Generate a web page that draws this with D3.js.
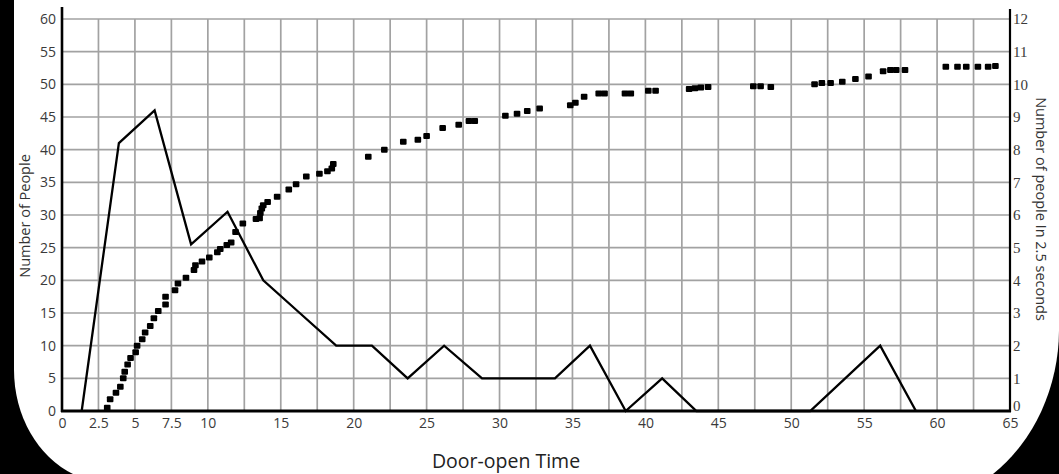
<!DOCTYPE html>
<html>
<head>
<meta charset="utf-8">
<script src="https://cdn.jsdelivr.net/npm/d3@7"></script>
<style>
  html, body { margin: 0; padding: 0; background: #000; }
  svg { display: block; }
</style>
</head>
<body>
<script>
// cumulative number of people (left axis)
const cumTimes = [3.1, 3.3, 3.7, 4.0, 4.2, 4.3, 4.5, 4.7, 5.05, 5.15, 5.5, 5.7, 6.05, 6.3, 6.6, 7.1, 7.1, 7.75, 7.95, 8.5,
  9.05, 9.15, 9.6, 10.1, 10.65, 10.85, 11.3, 11.6, 11.9, 12.4, 13.3, 13.55, 13.6, 13.7, 13.8, 14.1, 14.75, 15.55, 16.05, 16.75,
  17.65, 18.2, 18.5, 18.6, 21.0, 22.1, 23.4, 24.4, 25.0, 26.1, 27.2, 27.9, 28.3, 30.4, 31.2, 31.9, 32.75, 34.85, 35.2, 35.8,
  36.8, 37.2, 38.6, 39.0, 40.2, 40.7, 43.0, 43.4, 43.8, 44.3, 47.4, 47.9, 48.6, 51.6, 52.1, 52.7, 53.5, 54.4, 55.3, 56.3,
  56.8, 57.2, 57.8, 60.6, 61.4, 62.0, 62.8, 63.5, 64.0]
const cumPeople = [0.5, 1.8, 2.8, 3.7, 5.0, 6.0, 7.1, 8.1, 9.0, 10, 11, 12, 13, 14.2, 15.3, 16.3, 17.5, 18.5, 19.5, 20.4,
  21.6, 22.3, 22.9, 23.5, 24.3, 24.8, 25.4, 25.8, 27.4, 28.7, 29.4, 29.5, 30.3, 31.0, 31.5, 32.0, 32.8, 33.9, 34.7, 35.9,
  36.3, 36.7, 37.1, 37.8, 38.9, 40, 41.2, 41.5, 42.1, 43.3, 43.8, 44.4, 44.4, 45.2, 45.5, 45.9, 46.3, 46.8, 47.2, 48.1,
  48.6, 48.6, 48.6, 48.6, 49.0, 49.0, 49.3, 49.4, 49.5, 49.6, 49.7, 49.7, 49.6, 50.0, 50.2, 50.2, 50.4, 50.8, 51.2, 52.0,
  52.2, 52.2, 52.2, 52.7, 52.7, 52.7, 52.7, 52.7, 52.8]

// people per 2.5 seconds (right axis)
const rateTimes = [1.35, 3.9, 6.35, 8.85, 11.35, 13.8, 16.3, 18.8, 21.25, 23.7, 26.2, 28.8, 31.25, 33.8,
  36.2, 38.65, 41.15, 43.5, 46.25, 48.75, 51.3, 53.7, 56.1, 58.55]
const ratePeople = [0, 8.2, 9.2, 5.1, 6.1, 4.0, 3.0, 2, 2, 1, 2, 1, 1, 1, 2, 0, 1, 0, 0, 0, 0, 1, 2, 0]

// tick labels
const xTicks = [0, 2.5, 5, 7.5, 10, 15, 20, 25, 30, 35, 40, 45, 50, 55, 60, 65]
const leftTicks = [0, 5, 10, 15, 20, 25, 30, 35, 40, 45, 50, 55, 60]
const rightTicks = [0, 1, 2, 3, 4, 5, 6, 7, 8, 9, 10, 11, 12]

const w = 1059
const h = 474
const pLeft = 62, pRight = 1010, pTop = 19, pBottom = 411

const x = d3.scaleLinear().domain([0, 65]).range([pLeft, pRight])
const yL = d3.scaleLinear().domain([0, 60]).range([pBottom, pTop])
const yR = d3.scaleLinear().domain([0, 12]).range([pBottom, pTop])

const svg = d3.select("body")
              .append("svg")
              .attr("width", w)
              .attr("height", h)

// white card with rounded bottom corners
svg.append("path")
   .attr("d", "M14,0 H1059 V330 A159,178 0 0 1 993,474 H73 A96,113 0 0 1 14,370 Z")
   .attr("fill", "#fff")

// grid
svg.append("g")
   .selectAll("line")
   .data(d3.range(2.5, 65, 2.5))
   .enter()
   .append("line")
   .attr("x1", d => x(d)).attr("x2", d => x(d))
   .attr("y1", pTop).attr("y2", pBottom)
   .attr("stroke", "#a2a2a2")
   .attr("stroke-width", 1.7)
svg.append("g")
   .selectAll("line")
   .data(leftTicks.slice(1))
   .enter()
   .append("line")
   .attr("x1", pLeft).attr("x2", pRight)
   .attr("y1", d => yL(d)).attr("y2", d => yL(d))
   .attr("stroke", "#a2a2a2")
   .attr("stroke-width", 1.7)

// axes
const xAxis = d3.axisBottom(x).tickValues(xTicks).tickFormat(d => d).tickSize(0).tickPadding(7)
const yAxisL = d3.axisLeft(yL).tickValues(leftTicks).tickSize(0).tickPadding(6)
const yAxisR = d3.axisRight(yR).tickValues(rightTicks).tickSize(0).tickPadding(3)

svg.append("g")
   .attr("id", "x-axis")
   .attr("transform", "translate(0, " + pBottom + ")")
   .call(xAxis)
svg.append("g")
   .attr("id", "y-axis")
   .attr("transform", "translate(" + pLeft + ", 0)")
   .call(yAxisL)
svg.append("g")
   .attr("id", "y-axis-right")
   .attr("transform", "translate(" + pRight + ", 0)")
   .call(yAxisR)

svg.selectAll(".domain").remove()
svg.selectAll("#x-axis text, #y-axis text")
   .attr("font-family", "Open Sans")
   .attr("font-size", 14)
   .attr("fill", "#3a3a3a")
svg.selectAll("#y-axis-right text")
   .attr("font-family", "Liberation Serif")
   .attr("font-size", 15)
   .attr("fill", "#3a3a3a")
   .attr("dy", d => d === 0 ? "-0.05em" : "0.32em")

svg.append("line")
   .attr("x1", pLeft).attr("x2", pLeft).attr("y1", 7).attr("y2", pBottom + 1)
   .attr("stroke", "#000").attr("stroke-width", 2.6)
svg.append("line")
   .attr("x1", pRight).attr("x2", pRight).attr("y1", 9).attr("y2", pBottom + 1)
   .attr("stroke", "#000").attr("stroke-width", 2.2)
svg.append("line")
   .attr("x1", pLeft - 1).attr("x2", pRight + 1).attr("y1", pBottom).attr("y2", pBottom)
   .attr("stroke", "#000").attr("stroke-width", 3)

// people in 2.5 seconds
const line = d3.line()
               .x((d, i) => x(rateTimes[i]))
               .y(d => yR(d))
svg.append("path")
   .datum(ratePeople)
   .attr("d", line)
   .attr("fill", "none")
   .attr("stroke", "#000")
   .attr("stroke-width", 2.3)
   .attr("stroke-linejoin", "miter")

// cumulative people
svg.append("g")
   .selectAll("rect")
   .data(cumPeople)
   .enter()
   .append("rect")
   .attr("x", (d, i) => x(cumTimes[i]) - 3.3)
   .attr("y", d => yL(d) - 3)
   .attr("width", 6.6)
   .attr("height", 6)
   .attr("rx", 1)
   .attr("fill", "#000")

// titles
svg.append("text")
   .attr("transform", "translate(26, 216) rotate(-90)")
   .attr("text-anchor", "middle")
   .attr("dominant-baseline", "middle")
   .attr("font-family", "Open Sans")
   .attr("font-size", 14.5)
   .attr("fill", "#333")
   .text("Number of People")
svg.append("text")
   .attr("transform", "translate(1040, 209) rotate(90)")
   .attr("text-anchor", "middle")
   .attr("dominant-baseline", "middle")
   .attr("font-family", "Open Sans")
   .attr("font-size", 14.5)
   .attr("fill", "#333")
   .text("Number of people In 2.5 seconds")
svg.append("text")
   .attr("x", 506)
   .attr("y", 468)
   .attr("text-anchor", "middle")
   .attr("font-family", "Open Sans")
   .attr("font-size", 19.5)
   .attr("fill", "#222")
   .text("Door-open Time")
</script>
</body>
</html>
